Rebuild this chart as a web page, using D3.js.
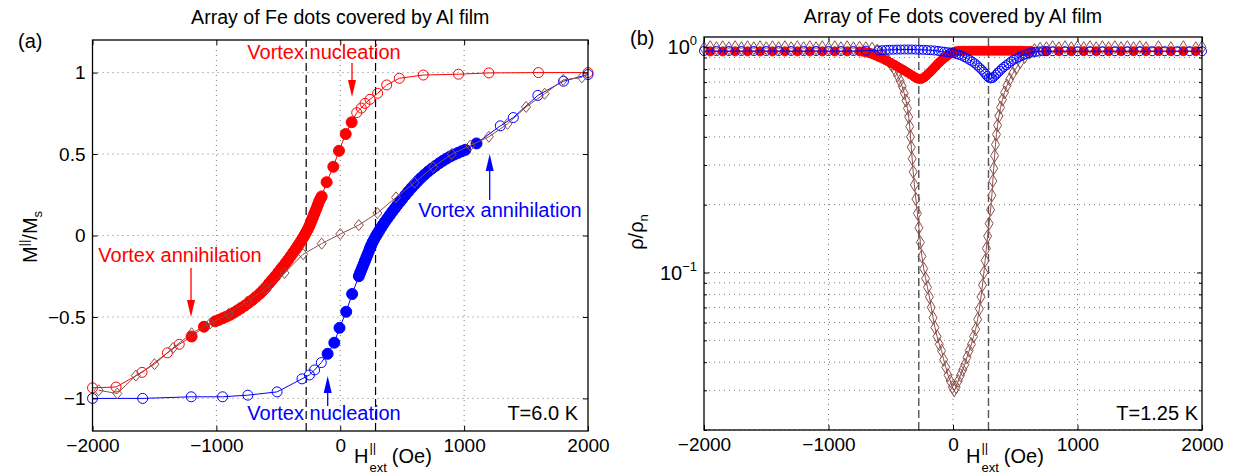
<!DOCTYPE html>
<html><head><meta charset="utf-8">
<script src="https://cdn.jsdelivr.net/npm/d3@7"></script>
<style>body{margin:0;background:#fff}svg{display:block;font-family:"Liberation Sans",Arial,Helvetica,sans-serif}</style>
</head><body>
<script>
// ---------------- DATA ----------------
const xTicks = [-2000, -1000, 0, 1000, 2000];
const yTicksA = [-1, -0.5, 0, 0.5, 1];
const yMajorB = [0.1, 1];
const yMinorB = [0.02,0.03,0.04,0.05,0.06,0.07,0.08,0.09,0.2,0.3,0.4,0.5,0.6,0.7,0.8,0.9];
const dashedH = [-275, 285];
const titleText = "Array of Fe dots covered by Al film";

// Panel (a): red branch
const redA_openHi = [[2000,1.0],[1600,1.0],[1200,0.998],[955,0.99],[670,0.985],[477,0.965],[375,0.924],[302,0.873],[240,0.836],[200,0.811],[170,0.782],[133,0.754]];
const redA_filled = [[92,0.695],[44,0.623],[-10,0.52],[-56,0.422],[-110,0.327],
 [-150,0.24],[-160,0.225],[-170,0.21],[-180,0.19],[-190,0.17],[-200,0.152],[-210,0.133],[-220,0.113],[-230,0.095],[-240,0.075],[-250,0.057],[-262,0.038],[-275,0.02],[-288,0.002],[-300,-0.014],[-315,-0.032],[-330,-0.05],[-345,-0.067],[-360,-0.084],[-380,-0.105],[-400,-0.127],[-420,-0.148],[-440,-0.168],[-460,-0.188],[-480,-0.207],[-500,-0.226],[-525,-0.25],[-550,-0.272],[-575,-0.294],[-600,-0.318],[-625,-0.338],[-650,-0.357],[-680,-0.377],[-710,-0.396],[-740,-0.413],[-770,-0.43],[-800,-0.445],[-830,-0.46],[-860,-0.474],[-890,-0.487],[-920,-0.498],[-950,-0.508],[-980,-0.518],[-1010,-0.527],
 [-1100,-0.56],[-1200,-0.62]];
const redA_openLo = [[-1300,-0.668],[-1395,-0.72],[-1600,-0.84],[-1810,-0.93],[-2000,-0.935]];

// Panel (a): blue branch
const blueA_openLo = [[-2000,-1.0],[-1595,-1.0],[-1203,-0.99],[-950,-0.99],[-746,-0.98],[-510,-0.96],[-309,-0.88],[-249,-0.856],[-207,-0.825],[-153,-0.78]];
const blueA_filled = [[-102,-0.726],[-48,-0.658],[-6,-0.567],[48,-0.468],[96,-0.359],
 [150,-0.25],[160,-0.23],[170,-0.212],[180,-0.193],[190,-0.174],[200,-0.155],[210,-0.136],[220,-0.117],[230,-0.098],[240,-0.078],[250,-0.06],[262,-0.04],[275,-0.022],[288,-0.004],[300,0.012],[315,0.03],[330,0.048],[345,0.066],[360,0.083],[380,0.104],[400,0.125],[420,0.146],[440,0.166],[460,0.186],[480,0.205],[500,0.224],[525,0.247],[550,0.27],[575,0.292],[600,0.313],[625,0.333],[650,0.352],[680,0.373],[710,0.393],[740,0.411],[770,0.428],[800,0.444],[830,0.459],[860,0.473],[890,0.486],[920,0.497],[950,0.507],[980,0.517],[1010,0.526],
 [1100,0.565]];
const blueA_openHi = [[1292,0.673],[1397,0.724],[1595,0.86],[1802,0.947],[2000,0.988]];

// Panel (a): brown (diamonds)
const brownA = [[-1950,-0.95],[-1800,-0.97],[-1650,-0.86],[-1500,-0.79],[-1350,-0.69],[-1200,-0.6],[-1050,-0.54],[-900,-0.48],[-750,-0.405],[-600,-0.325],[-450,-0.23],[-300,-0.115],[-150,-0.05],[0,0.009],[150,0.064],[300,0.138],[450,0.234],[600,0.325],[750,0.42],[900,0.5],[1050,0.552],[1200,0.606],[1350,0.685],[1500,0.789],[1650,0.87],[1800,0.955],[1950,0.97]];

// Panel (b): red (filled circles)
const redB = [[-1950,0.958],[-1850,0.958],[-1750,0.958],[-1650,0.958],[-1550,0.958],[-1450,0.958],[-1350,0.958],[-1250,0.958],[-1150,0.958],[-1050,0.958],[-950,0.958],[-850,0.958],[-750,0.958],
 [-720,0.955],[-695,0.948],[-670,0.94],[-645,0.93],[-620,0.918],[-595,0.905],[-570,0.892],[-545,0.878],[-520,0.864],[-495,0.85],[-470,0.835],[-445,0.82],[-420,0.805],[-395,0.79],[-370,0.775],[-345,0.76],[-320,0.745],[-300,0.733],[-280,0.725],[-262,0.722],[-245,0.727],[-228,0.737],[-212,0.75],[-196,0.765],[-180,0.78],[-164,0.797],[-148,0.814],[-132,0.832],[-116,0.85],[-100,0.866],[-84,0.882],[-68,0.897],[-52,0.912],[-36,0.926],[-20,0.938],[-4,0.948],[12,0.955],[30,0.96],
 [50,0.963],[75,0.965],[100,0.965],[125,0.965],[150,0.965],[175,0.965],[200,0.965],[225,0.965],[250,0.965],[275,0.965],[300,0.965],[325,0.965],[350,0.965],[375,0.965],[400,0.965],[425,0.965],[450,0.965],[475,0.965],[500,0.965],[525,0.965],[550,0.965],[575,0.963],[600,0.962],[625,0.962],
 [750,0.96],[850,0.96],[950,0.96],[1050,0.96],[1150,0.96],[1250,0.96],[1350,0.96],[1450,0.96],[1550,0.96],[1650,0.96],[1750,0.96],[1850,0.96],[1950,0.96]];

// Panel (b): blue (open circles)
const blueB = [[-2000,0.962],[-1900,0.962],[-1800,0.962],[-1700,0.962],[-1600,0.962],[-1500,0.962],[-1400,0.962],[-1300,0.962],[-1200,0.962],[-1100,0.962],[-1000,0.962],[-900,0.962],[-800,0.962],[-700,0.965],[-600,0.968],
 [-570,0.97],[-540,0.972],[-510,0.974],[-480,0.975],[-450,0.976],[-420,0.976],[-390,0.977],[-360,0.977],[-330,0.977],[-300,0.976],[-270,0.975],[-240,0.974],[-210,0.972],[-180,0.97],[-150,0.967],[-120,0.963],[-95,0.958],[-70,0.954],
 [-45,0.95],[-20,0.945],[5,0.94],[28,0.932],[50,0.925],[72,0.915],[94,0.903],[115,0.89],[135,0.877],[155,0.863],[175,0.848],[195,0.83],[213,0.812],[230,0.795],[246,0.778],[260,0.762],[274,0.745],[288,0.732],[302,0.727],[316,0.73],[330,0.74],[345,0.755],[360,0.77],[376,0.786],[393,0.803],[410,0.818],[428,0.832],[447,0.848],[467,0.865],[488,0.88],[510,0.893],[533,0.906],[557,0.918],[582,0.93],[608,0.94],[635,0.948],[663,0.953],[692,0.957],[720,0.96],[750,0.961],
 [800,0.96],[900,0.96],[1000,0.96],[1100,0.96],[1200,0.96],[1300,0.96],[1400,0.96],[1500,0.96],[1600,0.96],[1700,0.96],[1800,0.96],[1900,0.96],[2000,0.96]];

// Panel (b): brown (diamonds)
const brownB = [[-2000,0.99],[-1950,1.0],[-1900,0.99],[-1850,1.0],[-1800,0.99],[-1750,1.0],[-1700,0.99],[-1650,1.0],[-1600,0.99],[-1550,1.0],[-1500,0.99],[-1450,1.0],[-1400,0.99],[-1350,1.0],[-1300,0.99],[-1250,1.0],[-1200,0.99],[-1150,1.0],[-1100,0.99],[-1050,1.0],[-1000,0.99],[-950,1.0],[-900,0.99],[-850,1.0],[-800,0.99],[-750,0.995],[-700,0.99],[-650,0.985],
 [-610,0.965],[-575,0.935],[-545,0.9],[-515,0.865],[-490,0.83],[-465,0.79],[-445,0.75],[-425,0.71],[-408,0.67],[-392,0.625],[-378,0.58],[-366,0.535],[-356,0.49],[-348,0.445],[-341,0.4],[-335,0.36],[-328,0.32],[-320,0.28],[-310,0.245],[-298,0.212],[-286,0.183],[-274,0.158],[-262,0.136],[-250,0.118],[-235,0.104],[-220,0.094],[-205,0.086],[-190,0.078],[-175,0.07],[-160,0.063],[-145,0.057],[-128,0.052],[-110,0.048],[-92,0.045],[-75,0.041],[-58,0.038],[-40,0.035],[-22,0.033],[-5,0.031],[10,0.03],
 [25,0.031],[42,0.033],[60,0.035],[78,0.037],[95,0.039],[112,0.042],[130,0.045],[148,0.048],[165,0.052],[182,0.056],[198,0.062],[212,0.069],[225,0.078],[237,0.088],[248,0.1],[258,0.113],[268,0.128],[278,0.145],[290,0.165],[302,0.19],[312,0.22],[320,0.255],[327,0.29],[334,0.33],[341,0.37],[349,0.41],[358,0.45],[369,0.495],[382,0.54],[397,0.585],[414,0.63],[433,0.675],[455,0.72],[480,0.765],[508,0.81],[540,0.86],[575,0.905],[615,0.945],[655,0.97],[700,0.985],
 [750,0.99],[800,1.0],[850,0.99],[900,1.0],[950,0.99],[1000,1.0],[1050,0.99],[1100,1.0],[1150,0.99],[1200,1.0],[1250,0.99],[1300,1.0],[1350,0.99],[1400,1.0],[1450,0.99],[1500,1.0],[1550,0.99],[1650,1.0],[1750,0.99],[1850,1.0],[1950,0.99],[2000,1.0]];

// ---------------- DRAW ----------------
const RED = "#ff0000", BLUE = "#0000ff", BROWN = "#8c4f4a";
const FS = 19, FS_ANN = 20, FS_TITLE = 19.6;
const svg = d3.select("body").append("svg").attr("width", 1233).attr("height", 475);

const xA = d3.scaleLinear().domain([-2000, 2000]).range([92.5, 588]);
const yA = d3.scaleLinear().domain([-1.2, 1.2]).range([431, 40]);
const xB = d3.scaleLinear().domain([-2000, 2000]).range([704, 1202]);
const yB = d3.scaleLog().domain([0.02, 1.11]).range([430, 37]);

const fmt = d => d < 0 ? "\u2212" + Math.abs(d) : String(d);

function gridLines(g, x, y, xs, ys) {
  const [x0, x1] = x.range(), [y0, y1] = y.range();
  g.selectAll(null).data(xs).enter().append("line")
    .attr("x1", d => x(d)).attr("x2", d => x(d)).attr("y1", y0).attr("y2", y1)
    .attr("stroke", "#7a7a7a").attr("stroke-width", 1).attr("stroke-dasharray", "1,4");
  g.selectAll(null).data(ys).enter().append("line")
    .attr("y1", d => y(d)).attr("y2", d => y(d)).attr("x1", x0).attr("x2", x1)
    .attr("stroke", "#7a7a7a").attr("stroke-width", 1).attr("stroke-dasharray", "1,4");
}
function dashed(g, x, y, color, w) {
  const [y0, y1] = y.range();
  g.selectAll(null).data(dashedH).enter().append("line")
    .attr("x1", d => x(d)).attr("x2", d => x(d)).attr("y1", y0).attr("y2", y1)
    .attr("stroke", color).attr("stroke-width", w).attr("stroke-dasharray", "8,4");
}
function seriesLine(g, x, y, pts, color) {
  g.append("path").attr("d", d3.line().x(d => x(d[0])).y(d => y(d[1]))(pts))
    .attr("fill", "none").attr("stroke", color).attr("stroke-width", 1);
}
function circles(g, x, y, pts, color, r, filled) {
  g.selectAll(null).data(pts).enter().append("circle")
    .attr("cx", d => x(d[0])).attr("cy", d => y(d[1])).attr("r", r)
    .attr("fill", filled ? color : "none").attr("stroke", color).attr("stroke-width", 1);
}
function diamonds(g, x, y, pts, color, w, h) {
  g.selectAll(null).data(pts).enter().append("path")
    .attr("d", `M0,${-h}L${w},0L0,${h}L${-w},0Z`)
    .attr("transform", d => `translate(${x(d[0])},${y(d[1])})`)
    .attr("fill", "none").attr("stroke", color).attr("stroke-width", 1);
}
function styleAxis(sel) {
  sel.select(".domain").remove();
  sel.attr("font-size", FS).attr("font-family", null);
  sel.selectAll(".tick line").attr("stroke", "#000").attr("stroke-width", 1);
  sel.selectAll(".tick text").attr("fill", "#000");
}
function frame(g, x, y, yT, yMinor) {
  const [x0, x1] = x.range(), [y0, y1] = y.range();
  g.append("g").attr("transform", `translate(0,${y0})`)
    .call(d3.axisBottom(x).tickValues(xTicks).tickSize(-5).tickSizeOuter(0).tickPadding(8).tickFormat(fmt)).call(styleAxis);
  g.append("g").attr("transform", `translate(0,${y1})`)
    .call(d3.axisTop(x).tickValues(xTicks).tickSize(-5).tickSizeOuter(0).tickFormat("")).call(styleAxis);
  g.append("g").attr("transform", `translate(${x0},0)`)
    .call(d3.axisLeft(y).tickValues(yT).tickSize(-5).tickSizeOuter(0).tickPadding(7).tickFormat(yMinor ? "" : fmt)).call(styleAxis);
  g.append("g").attr("transform", `translate(${x1},0)`)
    .call(d3.axisRight(y).tickValues(yT).tickSize(-5).tickSizeOuter(0).tickFormat("")).call(styleAxis);
  if (yMinor) {
    g.append("g").attr("transform", `translate(${x0},0)`)
      .call(d3.axisLeft(y).tickValues(yMinor).tickSize(-3).tickSizeOuter(0).tickFormat("")).call(styleAxis);
    g.append("g").attr("transform", `translate(${x1},0)`)
      .call(d3.axisRight(y).tickValues(yMinor).tickSize(-3).tickSizeOuter(0).tickFormat("")).call(styleAxis);
  }
  g.append("rect").attr("x", x0).attr("y", y1).attr("width", x1 - x0).attr("height", y0 - y1)
    .attr("fill", "none").attr("stroke", "#000").attr("stroke-width", 1.3);
}
function xLabel(g, x0, y0) {
  const t = g.append("text").attr("x", x0).attr("y", y0).attr("font-size", FS_ANN).text("H");
  const w = t.node().getComputedTextLength();
  const s1 = g.append("text").attr("x", x0 + w + 1).attr("y", y0 - 11).attr("font-size", 13).text("||");
  const s2 = g.append("text").attr("x", x0 + w + 1).attr("y", y0 + 9).attr("font-size", 13).text("ext");
  const w2 = Math.max(s1.node().getComputedTextLength(), s2.node().getComputedTextLength());
  g.append("text").attr("x", x0 + w + 1 + w2 + 5).attr("y", y0).attr("font-size", FS_ANN).text("(Oe)");
}
function arrow(g, x, yTail, yTip, color) {
  const dir = yTip > yTail ? 1 : -1, hl = 17, hw = 4;
  g.append("line").attr("x1", x).attr("x2", x).attr("y1", yTail).attr("y2", yTip - dir * hl)
    .attr("stroke", color).attr("stroke-width", 1.3);
  g.append("path").attr("d", `M${x},${yTip}L${x - hw},${yTip - dir * hl}L${x + hw},${yTip - dir * hl}Z`).attr("fill", color);
}
function txt(g, x, y, s, color, anchor, size) {
  return g.append("text").attr("x", x).attr("y", y).attr("font-size", size || FS).attr("fill", color || "#000")
    .attr("text-anchor", anchor || "start").text(s);
}

// ---- Panel (a)
const gA = svg.append("g");
gridLines(gA, xA, yA, [-1000, 0, 1000], yTicksA);
dashed(gA, xA, yA, "#000", 1.2);
const redAll = redA_openHi.concat(redA_filled, redA_openLo);
const blueAll = blueA_openLo.concat(blueA_filled, blueA_openHi);
seriesLine(gA, xA, yA, redAll, RED);
circles(gA, xA, yA, redA_openHi, RED, 5, false);
circles(gA, xA, yA, redA_filled, RED, 5.5, true);
circles(gA, xA, yA, redA_openLo, RED, 5, false);
seriesLine(gA, xA, yA, blueAll, BLUE);
circles(gA, xA, yA, blueA_openLo, BLUE, 5, false);
circles(gA, xA, yA, blueA_filled, BLUE, 5.5, true);
circles(gA, xA, yA, blueA_openHi, BLUE, 5, false);
seriesLine(gA, xA, yA, brownA, BROWN);
diamonds(gA, xA, yA, brownA, BROWN, 4.5, 5.5);
frame(gA, xA, yA, yTicksA, null);

txt(gA, 340.25, 24, titleText, "#000", "middle", FS_TITLE);
txt(gA, 18, 48, "(a)", "#000", "start", FS_ANN);
txt(gA, 578, 420, "T=6.0 K", "#000", "end", FS_ANN);
xLabel(gA, 354, 463);
const ylA = gA.append("text").attr("transform", "translate(37,237) rotate(-90)").attr("text-anchor", "middle").attr("font-size", FS_ANN);
ylA.append("tspan").text("M");
ylA.append("tspan").attr("dy", -9).attr("font-size", 13).text("||");
ylA.append("tspan").attr("dy", 9).text("/M");
ylA.append("tspan").attr("dy", 5).attr("font-size", 13).text("s");

txt(gA, 324, 59, "Vortex nucleation", RED, "middle", FS_ANN);
arrow(gA, 352, 63, 97, RED);
txt(gA, 180, 262, "Vortex annihilation", RED, "middle", FS_ANN);
arrow(gA, 191, 268, 317, RED);
txt(gA, 500, 217, "Vortex annihilation", BLUE, "middle", FS_ANN);
arrow(gA, 489.7, 200, 154, BLUE);
txt(gA, 324, 420, "Vortex nucleation", BLUE, "middle", FS_ANN);
arrow(gA, 327.7, 406, 376, BLUE);

// ---- Panel (b)
const gB = svg.append("g");
gridLines(gB, xB, yB, [-1000, 0, 1000], yMinorB.concat(yMajorB));
dashed(gB, xB, yB, "#555", 1.4);
seriesLine(gB, xB, yB, brownB, BROWN);
diamonds(gB, xB, yB, brownB, BROWN, 4, 6.5);
seriesLine(gB, xB, yB, redB, RED);
circles(gB, xB, yB, redB, RED, 4.5, true);
seriesLine(gB, xB, yB, blueB, BLUE);
circles(gB, xB, yB, blueB, BLUE, 4.5, false);
frame(gB, xB, yB, yMajorB, yMinorB);

// log tick labels
yMajorB.forEach(v => {
  const t = gB.append("text").attr("x", 697).attr("y", yB(v) + 7).attr("text-anchor", "end").attr("font-size", FS_ANN);
  t.append("tspan").text("10");
  t.append("tspan").attr("dy", -9).attr("font-size", 13).text(v === 1 ? "0" : "\u22121");
});
txt(gB, 953, 23, titleText, "#000", "middle", FS_TITLE);
txt(gB, 630, 45, "(b)", "#000", "start", FS_ANN);
txt(gB, 1198, 420, "T=1.25 K", "#000", "end", FS_ANN);
xLabel(gB, 966, 463);
const ylB = gB.append("text").attr("transform", "translate(643,232) rotate(-90)").attr("text-anchor", "middle").attr("font-size", FS_ANN);
ylB.append("tspan").text("\u03c1/\u03c1");
ylB.append("tspan").attr("dy", 5).attr("font-size", 13).text("n");
</script>
</body></html>
